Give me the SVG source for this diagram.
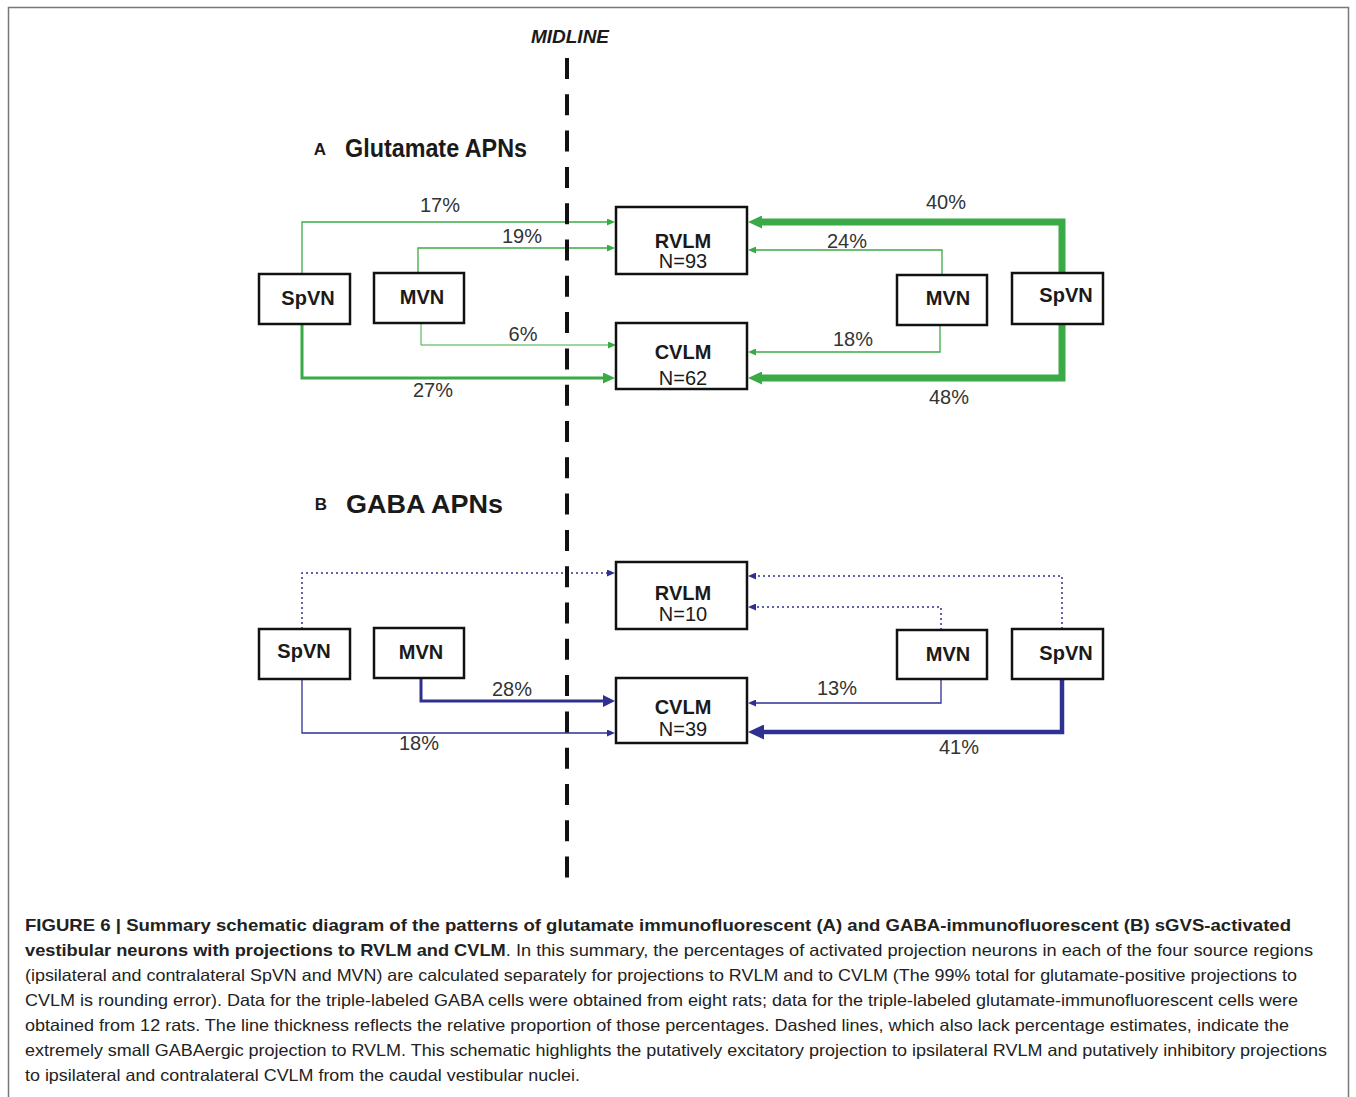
<svg xmlns="http://www.w3.org/2000/svg" width="1356" height="1097" viewBox="0 0 1356 1097">
<style>
.box{fill:#fff;stroke:#111;stroke-width:2.5}
.nt{font-family:"Liberation Sans",Arial,sans-serif;font-weight:bold;font-size:20px;fill:#1a1a1a;text-anchor:middle}
.nn{font-family:"Liberation Sans",Arial,sans-serif;font-size:20px;fill:#1a1a1a;text-anchor:middle}
.pct{font-family:"Liberation Sans",Arial,sans-serif;font-size:20px;fill:#333;text-anchor:middle}
.g{fill:none;stroke:#3aaa46;stroke-linejoin:miter}
.b{fill:none;stroke:#2e3192;stroke-linejoin:miter}
.dot{stroke-dasharray:2 3}
.head{font-family:"Liberation Sans",Arial,sans-serif;font-weight:bold;fill:#1a1a1a}
.cap{font-family:"Liberation Sans",Arial,sans-serif;font-size:16.5px;fill:#222}
</style>
<defs>
<marker id="gS" markerUnits="userSpaceOnUse" markerWidth="8" markerHeight="7" refX="0" refY="3.5" orient="auto"><path d="M0,0 L8,3.5 L0,7 z" fill="#3aaa46"/></marker>
<marker id="gM" markerUnits="userSpaceOnUse" markerWidth="12" markerHeight="11" refX="0" refY="5.5" orient="auto"><path d="M0,0 L12,5.5 L0,11 z" fill="#3aaa46"/></marker>
<marker id="gL" markerUnits="userSpaceOnUse" markerWidth="14" markerHeight="13" refX="0" refY="6.5" orient="auto"><path d="M0,0 L14,6.5 L0,13 z" fill="#3aaa46"/></marker>
<marker id="bS" markerUnits="userSpaceOnUse" markerWidth="8" markerHeight="7" refX="0" refY="3.5" orient="auto"><path d="M0,0 L8,3.5 L0,7 z" fill="#2e3192"/></marker>
<marker id="bM" markerUnits="userSpaceOnUse" markerWidth="12" markerHeight="12" refX="0" refY="6" orient="auto"><path d="M0,0 L12,6 L0,12 z" fill="#2e3192"/></marker>
<marker id="bL" markerUnits="userSpaceOnUse" markerWidth="16" markerHeight="15" refX="0" refY="7.5" orient="auto"><path d="M0,0 L16,7.5 L0,15 z" fill="#2e3192"/></marker>
</defs>
<rect x="0" y="0" width="1356" height="1097" fill="#fff"/>
<rect x="8.5" y="7.5" width="1340" height="1110" fill="none" stroke="#777" stroke-width="1.5"/>

<text x="570" y="43" class="head" font-style="italic" font-size="19" text-anchor="middle">MIDLINE</text>
<text x="320" y="155" class="head" font-size="17" text-anchor="middle">A</text>
<text x="345" y="157" class="head" font-size="25" textLength="182" lengthAdjust="spacingAndGlyphs">Glutamate APNs</text>
<text x="321" y="510" class="head" font-size="17" text-anchor="middle">B</text>
<text x="346" y="513" class="head" font-size="26" textLength="157" lengthAdjust="spacingAndGlyphs">GABA APNs</text>

<g id="connectors">
<path class="g" stroke-width="1.3" d="M302,274 V222 H607" marker-end="url(#gS)"/>
<path class="g" stroke-width="1.3" d="M418,273 V248 H607" marker-end="url(#gS)"/>
<path class="g" stroke-width="1" d="M421,323 V345 H608" marker-end="url(#gS)"/>
<path class="g" stroke-width="3" d="M302,324 V378 H603" marker-end="url(#gM)"/>
<path class="g" stroke-width="7" d="M1062,273 V222 H762" marker-end="url(#gL)"/>
<path class="g" stroke-width="1.3" d="M942,275 V250 H756" marker-end="url(#gS)"/>
<path class="g" stroke-width="1.3" d="M940,325 V352 H756" marker-end="url(#gS)"/>
<path class="g" stroke-width="7" d="M1062,324 V378 H762" marker-end="url(#gL)"/>

<path class="b dot" stroke-width="1.5" d="M302,629 V573 H607" marker-end="url(#bS)"/>
<path class="b" stroke-width="3" d="M421,678 V701 H603" marker-end="url(#bM)"/>
<path class="b" stroke-width="1.3" d="M302,679 V733 H607" marker-end="url(#bS)"/>
<path class="b dot" stroke-width="1.5" d="M1062,629 V576 H756" marker-end="url(#bS)"/>
<path class="b dot" stroke-width="1.5" d="M941,630 V607 H756" marker-end="url(#bS)"/>
<path class="b" stroke-width="1.3" d="M941,679 V703 H756" marker-end="url(#bS)"/>
<path class="b" stroke-width="4.5" d="M1062,679 V732 H764" marker-end="url(#bL)"/>
</g>

<g id="labels">
<text class="pct" x="440" y="212">17%</text>
<text class="pct" x="522" y="243" font-size="15.5">19%</text>
<text class="pct" x="523" y="341" font-size="16">6%</text>
<text class="pct" x="433" y="397" font-size="16.5">27%</text>
<text class="pct" x="946" y="209" font-size="21">40%</text>
<text class="pct" x="847" y="248">24%</text>
<text class="pct" x="853" y="346">18%</text>
<text class="pct" x="949" y="404" font-size="21">48%</text>
<text class="pct" x="512" y="696">28%</text>
<text class="pct" x="419" y="750">18%</text>
<text class="pct" x="837" y="695">13%</text>
<text class="pct" x="959" y="754">41%</text>
</g>

<line x1="567" y1="58" x2="567" y2="878" stroke="#111" stroke-width="4" stroke-dasharray="21 15.3"/>

<g id="a-spvn-l"><rect class="box" x="259" y="274" width="91" height="50"/><text class="nt" x="308" y="305">SpVN</text></g>
<g id="a-mvn-l"><rect class="box" x="374" y="273" width="90" height="50"/><text class="nt" x="422" y="304">MVN</text></g>
<g id="a-rvlm"><rect class="box" x="616" y="207" width="131" height="67"/><text class="nt" x="683" y="248">RVLM</text><text class="nn" x="683" y="268">N=93</text></g>
<g id="a-cvlm"><rect class="box" x="616" y="323" width="131" height="66"/><text class="nt" x="683" y="359">CVLM</text><text class="nn" x="683" y="385">N=62</text></g>
<g id="a-mvn-r"><rect class="box" x="897" y="275" width="90" height="50"/><text class="nt" x="948" y="305">MVN</text></g>
<g id="a-spvn-r"><rect class="box" x="1012" y="273" width="91" height="51"/><text class="nt" x="1066" y="302">SpVN</text></g>

<g id="b-spvn-l"><rect class="box" x="259" y="629" width="91" height="50"/><text class="nt" x="304" y="658">SpVN</text></g>
<g id="b-mvn-l"><rect class="box" x="374" y="628" width="90" height="50"/><text class="nt" x="421" y="659">MVN</text></g>
<g id="b-rvlm"><rect class="box" x="616" y="562" width="131" height="67"/><text class="nt" x="683" y="600">RVLM</text><text class="nn" x="683" y="621">N=10</text></g>
<g id="b-cvlm"><rect class="box" x="616" y="678" width="131" height="65"/><text class="nt" x="683" y="714">CVLM</text><text class="nn" x="683" y="736">N=39</text></g>
<g id="b-mvn-r"><rect class="box" x="897" y="630" width="90" height="49"/><text class="nt" x="948" y="661">MVN</text></g>
<g id="b-spvn-r"><rect class="box" x="1012" y="629" width="91" height="50"/><text class="nt" x="1066" y="660">SpVN</text></g>

<g id="caption">
<text class="cap" x="25" y="931" font-weight="bold" textLength="1266" lengthAdjust="spacingAndGlyphs">FIGURE 6 | Summary schematic diagram of the patterns of glutamate immunofluorescent (A) and GABA-immunofluorescent (B) sGVS-activated</text>
<text class="cap" x="25" y="956" textLength="1288" lengthAdjust="spacingAndGlyphs"><tspan font-weight="bold">vestibular neurons with projections to RVLM and CVLM</tspan>. In this summary, the percentages of activated projection neurons in each of the four source regions</text>
<text class="cap" x="25" y="981" textLength="1272" lengthAdjust="spacingAndGlyphs">(ipsilateral and contralateral SpVN and MVN) are calculated separately for projections to RVLM and to CVLM (The 99% total for glutamate-positive projections to</text>
<text class="cap" x="25" y="1006" textLength="1273" lengthAdjust="spacingAndGlyphs">CVLM is rounding error). Data for the triple-labeled GABA cells were obtained from eight rats; data for the triple-labeled glutamate-immunofluorescent cells were</text>
<text class="cap" x="25" y="1031" textLength="1264" lengthAdjust="spacingAndGlyphs">obtained from 12 rats. The line thickness reflects the relative proportion of those percentages. Dashed lines, which also lack percentage estimates, indicate the</text>
<text class="cap" x="25" y="1056" textLength="1302" lengthAdjust="spacingAndGlyphs">extremely small GABAergic projection to RVLM. This schematic highlights the putatively excitatory projection to ipsilateral RVLM and putatively inhibitory projections</text>
<text class="cap" x="25" y="1081" textLength="555" lengthAdjust="spacingAndGlyphs">to ipsilateral and contralateral CVLM from the caudal vestibular nuclei.</text>
</g>
</svg>
